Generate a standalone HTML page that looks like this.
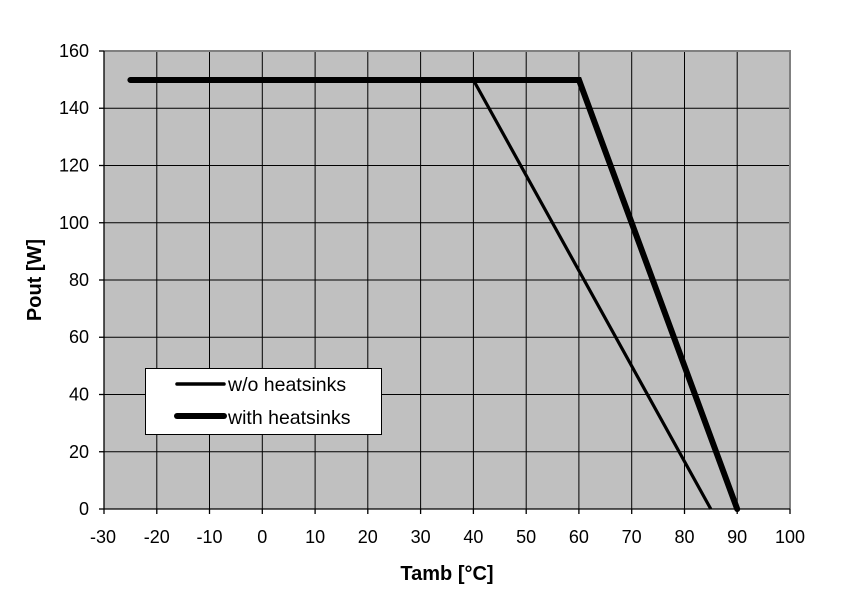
<!DOCTYPE html>
<html><head><meta charset="utf-8"><style>body{margin:0;background:#fff}svg{display:block}</style></head><body>
<svg width="851" height="607" xmlns="http://www.w3.org/2000/svg" font-family="Liberation Sans, Arial, sans-serif">
<rect x="104" y="51" width="686" height="458" fill="#c0c0c0"/>
<g stroke="#000" stroke-width="1">
<line x1="156.8" y1="51" x2="156.8" y2="509"/><line x1="209.5" y1="51" x2="209.5" y2="509"/><line x1="262.3" y1="51" x2="262.3" y2="509"/><line x1="315.1" y1="51" x2="315.1" y2="509"/><line x1="367.8" y1="51" x2="367.8" y2="509"/><line x1="420.6" y1="51" x2="420.6" y2="509"/><line x1="473.4" y1="51" x2="473.4" y2="509"/><line x1="526.2" y1="51" x2="526.2" y2="509"/><line x1="578.9" y1="51" x2="578.9" y2="509"/><line x1="631.7" y1="51" x2="631.7" y2="509"/><line x1="684.5" y1="51" x2="684.5" y2="509"/><line x1="737.2" y1="51" x2="737.2" y2="509"/>
<line x1="104" y1="451.75" x2="790" y2="451.75"/><line x1="104" y1="394.5" x2="790" y2="394.5"/><line x1="104" y1="337.25" x2="790" y2="337.25"/><line x1="104" y1="280" x2="790" y2="280"/><line x1="104" y1="222.75" x2="790" y2="222.75"/><line x1="104" y1="165.5" x2="790" y2="165.5"/><line x1="104" y1="108.25" x2="790" y2="108.25"/>
</g>
<g stroke="#808080" stroke-width="2"><line x1="104" y1="51" x2="791" y2="51"/><line x1="790" y1="51" x2="790" y2="509"/></g>
<g stroke="#000" stroke-width="1.3">
<line x1="104" y1="51" x2="104" y2="509"/><line x1="104" y1="509" x2="790" y2="509"/>
<line x1="99" y1="51" x2="104" y2="51"/><line x1="99" y1="108.25" x2="104" y2="108.25"/><line x1="99" y1="165.5" x2="104" y2="165.5"/><line x1="99" y1="222.75" x2="104" y2="222.75"/><line x1="99" y1="280" x2="104" y2="280"/><line x1="99" y1="337.25" x2="104" y2="337.25"/><line x1="99" y1="394.5" x2="104" y2="394.5"/><line x1="99" y1="451.75" x2="104" y2="451.75"/><line x1="99" y1="509" x2="104" y2="509"/>
<line x1="104" y1="509" x2="104" y2="514"/><line x1="156.8" y1="509" x2="156.8" y2="514"/><line x1="209.5" y1="509" x2="209.5" y2="514"/><line x1="262.3" y1="509" x2="262.3" y2="514"/><line x1="315.1" y1="509" x2="315.1" y2="514"/><line x1="367.8" y1="509" x2="367.8" y2="514"/><line x1="420.6" y1="509" x2="420.6" y2="514"/><line x1="473.4" y1="509" x2="473.4" y2="514"/><line x1="526.2" y1="509" x2="526.2" y2="514"/><line x1="578.9" y1="509" x2="578.9" y2="514"/><line x1="631.7" y1="509" x2="631.7" y2="514"/><line x1="684.5" y1="509" x2="684.5" y2="514"/><line x1="737.2" y1="509" x2="737.2" y2="514"/><line x1="790" y1="509" x2="790" y2="514"/>
</g>
<polyline points="130.4,80 473.4,80 710.8,509" fill="none" stroke="#000" stroke-width="3.2" stroke-linejoin="round"/>
<polyline points="130.4,80 579,80 737.2,509" fill="none" stroke="#000" stroke-width="6" stroke-linejoin="miter" stroke-linecap="round"/>
<g font-size="18" fill="#000" text-anchor="end">
<text x="89" y="57">160</text><text x="89" y="114">140</text><text x="89" y="171.5">120</text><text x="89" y="229">100</text><text x="89" y="286">80</text><text x="89" y="343">60</text><text x="89" y="400.5">40</text><text x="89" y="458">20</text><text x="89" y="515">0</text>
</g>
<g font-size="18" fill="#000" text-anchor="middle">
<text x="103" y="543">-30</text><text x="156.8" y="543">-20</text><text x="209.5" y="543">-10</text><text x="262.3" y="543">0</text><text x="315.1" y="543">10</text><text x="367.8" y="543">20</text><text x="420.6" y="543">30</text><text x="473.4" y="543">40</text><text x="526.2" y="543">50</text><text x="578.9" y="543">60</text><text x="631.7" y="543">70</text><text x="684.5" y="543">80</text><text x="737.2" y="543">90</text><text x="790" y="543">100</text>
<text x="447" y="580" font-weight="bold" font-size="20">Tamb [°C]</text>
<text transform="translate(41,280) rotate(-90)" font-weight="bold" font-size="20">Pout [W]</text>
</g>
<rect x="145.5" y="368.5" width="236" height="66" fill="#fff" stroke="#000" stroke-width="1"/>
<line x1="177" y1="384" x2="224" y2="384" stroke="#000" stroke-width="3.5" stroke-linecap="round"/>
<line x1="177" y1="416" x2="224" y2="416" stroke="#000" stroke-width="6" stroke-linecap="round"/>
<text x="228" y="391" font-size="19.5">w/o heatsinks</text>
<text x="228" y="424" font-size="19.5">with heatsinks</text>
</svg>
</body></html>
